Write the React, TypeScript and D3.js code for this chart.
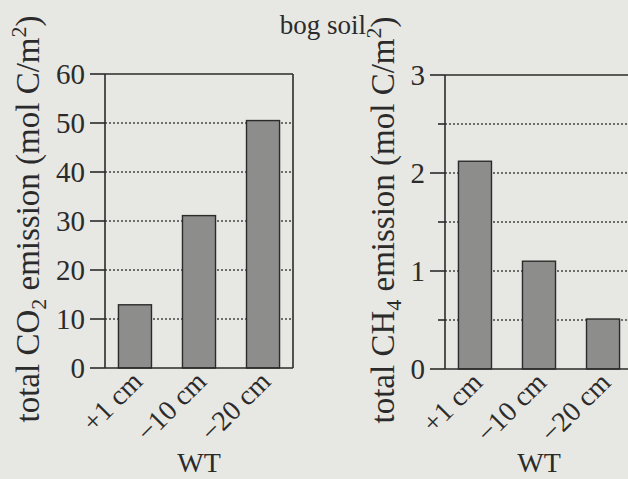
import React from "react";
import * as d3 from "d3";

const categories = ["+1 cm", "\u221210 cm", "\u221220 cm"];
const co2Values = [12.9, 31.1, 50.5];
const ch4Values = [2.12, 1.1, 0.51];
const co2Ticks = [0, 10, 20, 30, 40, 50, 60];
const co2Grid = [10, 20, 30, 40, 50];
const ch4MajorTicks = [0, 1, 2, 3];
const ch4MinorTicks = [0.5, 1.5, 2.5];
const ch4Grid = [0.5, 1, 1.5, 2, 2.5];
const title = "bog soil";
const xTitle = "WT";

const W = 628;
const H = 479;
const FONT = "'Liberation Serif', 'DejaVu Serif', serif";
const INK = "#2b2b2b";
const BG = "#e7e7e3";

type PanelProps = {
  values: number[];
  x0: number;
  x1: number;
  yBottom: number;
  yTop: number;
  yMax: number;
  majorTicks: number[];
  minorTicks: number[];
  grid: number[];
  labelMain: string;
  gas: [string, string];
  labelX: number;
  tickFmt: (v: number) => string;
};

function Panel(p: PanelProps) {
  const x = d3
    .scaleBand<string>()
    .domain(categories)
    .range([p.x0, p.x1])
    .paddingInner(0.484)
    .paddingOuter(0.21);
  const y = d3.scaleLinear().domain([0, p.yMax]).range([p.yBottom, p.yTop]);
  const cx = (p.x0 + p.x1) / 2;
  const yMid = (p.yBottom + p.yTop) / 2 - 2;
  return (
    <g>
      {p.grid.map((g) => (
        <line
          key={"g" + g}
          x1={p.x0}
          x2={p.x1}
          y1={y(g)}
          y2={y(g)}
          stroke="#444"
          strokeWidth={1.3}
          strokeDasharray="2,2"
        />
      ))}
      {p.values.map((v, i) => (
        <rect
          key={"b" + i}
          x={x(categories[i])!}
          y={y(v)}
          width={x.bandwidth()}
          height={y(0) - y(v)}
          fill="#8d8d8b"
          stroke={INK}
          strokeWidth={1.4}
        />
      ))}
      <line x1={p.x0} x2={p.x0} y1={p.yTop} y2={p.yBottom} stroke={INK} strokeWidth={1.6} />
      <line x1={p.x1} x2={p.x1} y1={p.yTop} y2={p.yBottom} stroke={INK} strokeWidth={1.6} />
      <line x1={p.x0} x2={p.x1} y1={p.yTop} y2={p.yTop} stroke={INK} strokeWidth={1.6} />
      <line x1={p.x0} x2={p.x1} y1={p.yBottom} y2={p.yBottom} stroke={INK} strokeWidth={1.6} />
      {p.majorTicks.map((t) => (
        <g key={"t" + t}>
          <line x1={p.x0 - 15} x2={p.x0} y1={y(t)} y2={y(t)} stroke={INK} strokeWidth={1.6} />
          <text
            x={p.x0 - 20}
            y={y(t)}
            dy="0.35em"
            textAnchor="end"
            fontSize={29}
            fontFamily={FONT}
            fill={INK}
          >
            {p.tickFmt(t)}
          </text>
        </g>
      ))}
      {p.minorTicks.map((t) => (
        <line key={"m" + t} x1={p.x0 - 7} x2={p.x0} y1={y(t)} y2={y(t)} stroke={INK} strokeWidth={1.6} />
      ))}
      {categories.map((c) => {
        const px = x(c)! + x.bandwidth() / 2 + 9;
        const py = p.yBottom + 15;
        return (
          <text
            key={"c" + c}
            transform={`translate(${px},${py}) rotate(-45)`}
            textAnchor="end"
            fontSize={28}
            fontFamily={FONT}
            fill={INK}
          >
            {c}
          </text>
        );
      })}
      <text x={cx} y={472} textAnchor="middle" fontSize={28} fontFamily={FONT} fill={INK}>
        {xTitle}
      </text>
      <text
        transform={`translate(${p.labelX},${yMid}) rotate(-90)`}
        textAnchor="middle"
        fontSize={33}
        fontFamily={FONT}
        fill={INK}
      >
        {p.labelMain}
        {p.gas[0]}
        <tspan fontSize={22} dy="7">{p.gas[1]}</tspan>
        <tspan dy="-7"> emission (mol C/m</tspan>
        <tspan fontSize={22} dy="-13">2</tspan>
        <tspan dy="13">)</tspan>
      </text>
    </g>
  );
}

export default function App() {
  return (
    <svg
      width={W}
      height={H}
      style={{ position: "absolute", left: 0, top: 0, display: "block" }}
    >
      <rect x={0} y={0} width={W} height={H} fill={BG} />
      <text x={323} y={34} textAnchor="middle" fontSize={27} fontFamily={FONT} fill={INK}>
        {title}
      </text>
      <Panel
        values={co2Values}
        x0={105}
        x1={293}
        yBottom={368}
        yTop={74}
        yMax={60}
        majorTicks={co2Ticks}
        minorTicks={[]}
        grid={co2Grid}
        labelMain="total "
        gas={["CO", "2"]}
        labelX={39}
        tickFmt={(v) => String(v)}
      />
      <Panel
        values={ch4Values}
        x0={445}
        x1={633}
        yBottom={369}
        yTop={75}
        yMax={3}
        majorTicks={ch4MajorTicks}
        minorTicks={ch4MinorTicks}
        grid={ch4Grid}
        labelMain="total "
        gas={["CH", "4"]}
        labelX={394}
        tickFmt={(v) => String(v)}
      />
    </svg>
  );
}
